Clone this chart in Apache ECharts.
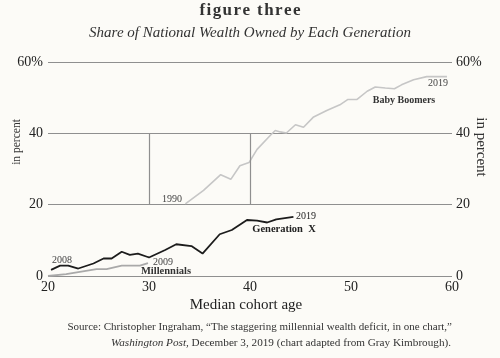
<!DOCTYPE html>
<html><head><meta charset="utf-8">
<script src="https://cdn.jsdelivr.net/npm/echarts@6/dist/echarts.min.js"></script>
<style>html,body{margin:0;padding:0;background:#fcfbf7}#c{width:500px;height:358px}</style>
</head><body><div id="c"></div>
<script>
const xTicks = [20, 30, 40, 50, 60];
const yTicks = [0, 20, 40, 60];
// [median cohort age, share %]
const babyBoomers = [[33.6,20.2],[35.4,24.0],[37.1,28.4],[38.1,27.1],[39.0,30.9],[39.9,31.8],[40.7,35.5],[42.0,39.4],[42.5,40.8],[43.0,40.4],[43.6,40.1],[44.5,42.4],[45.3,41.7],[46.3,44.6],[47.6,46.4],[48.9,48.0],[49.7,49.5],[50.6,49.5],[51.6,51.8],[52.4,53.0],[53.4,52.7],[54.3,52.5],[55.0,53.6],[56.2,55.0],[57.5,55.9],[59.5,55.9]];
const generationX = [[20.3,1.7],[21.2,2.9],[22.0,2.9],[23.0,2.1],[24.5,3.5],[25.5,4.9],[26.3,4.9],[27.3,6.8],[28.1,5.9],[28.9,6.3],[29.8,5.4],[30.0,5.2],[31.6,7.3],[32.7,8.9],[34.2,8.4],[35.3,6.3],[37.0,11.7],[38.2,12.9],[39.7,15.7],[40.7,15.5],[41.7,15.0],[42.6,15.9],[44.3,16.6]];
const millennials = [[20.0,0.0],[21.8,0.5],[24.8,1.9],[25.8,1.9],[27.3,2.9],[29.1,2.9],[29.9,3.6]];
const boxLines = [[[30,20],[30,40]],[[40,20],[40,40]]];

const serif = '"Liberation Serif","DejaVu Serif",serif';
const chart = echarts.init(document.getElementById('c'));
const txt = (x, y, text, o) => Object.assign({type:'text', x, y, style:Object.assign({text, font:'10px '+serif, fill:'#333', textVerticalAlign:'middle'}, o||{})});
const spaced = s => s.split('').join('\u200A');
chart.setOption({
  backgroundColor:'#fcfbf7',
  animation:false,
  grid:{left:48, right:48, top:62, bottom:82},
  xAxis:{type:'value', min:20, max:60, interval:10,
    axisLine:{show:false}, axisTick:{show:false}, splitLine:{show:false},
    axisLabel:{margin:4, color:'#222', fontFamily:serif, fontSize:14,
      formatter:v=>xTicks.includes(v)?String(v):''}},
  yAxis:[
    {type:'value', min:0, max:60, interval:20, position:'left',
      axisLine:{show:false}, axisTick:{show:false},
      splitLine:{show:true, lineStyle:{color:'#8f8f8f', width:1.2}},
      axisLabel:{margin:5, color:'#222', fontFamily:serif, fontSize:14,
        formatter:v=>yTicks.includes(v)?(v===60?'60%':String(v)):''}},
    {type:'value', min:0, max:60, interval:20, position:'right',
      axisLine:{show:false}, axisTick:{show:false}, splitLine:{show:false},
      axisLabel:{margin:4, color:'#222', fontFamily:serif, fontSize:14,
        formatter:v=>yTicks.includes(v)?(v===60?'60%':String(v)):''}}
  ],
  series:[
    {type:'line', data:[], symbol:'none', silent:true,
      markLine:{silent:true, symbol:'none', label:{show:false},
        lineStyle:{color:'#8f8f8f', width:1.2, type:'solid'},
        data:boxLines.map(l=>[{coord:l[0]},{coord:l[1]}])}},
    {name:'Baby Boomers', type:'line', data:babyBoomers, symbol:'none',
      lineStyle:{color:'#c6c6c6', width:1.6}},
    {name:'Millennials', type:'line', data:millennials, symbol:'none',
      lineStyle:{color:'#a9a9a9', width:1.8}},
    {name:'Generation X', type:'line', data:generationX, symbol:'none',
      lineStyle:{color:'#1c1c1c', width:1.8}}
  ],
  graphic:[
    txt(250, 11, spaced('figure three'), {font:'bold 17px '+serif, textAlign:'center', fill:'#333'}),
    txt(250, 33, 'Share of National Wealth Owned by Each Generation', {font:'italic 15px '+serif, textAlign:'center', fill:'#333'}),
    {type:'text', x:17, y:142, rotation:Math.PI/2, style:{text:'in percent', font:'11.5px '+serif, fill:'#333', textAlign:'center', textVerticalAlign:'middle'}},
    {type:'text', x:481, y:147, rotation:-Math.PI/2, style:{text:'in percent', font:'15px '+serif, fill:'#333', textAlign:'center', textVerticalAlign:'middle'}},
    txt(246, 305, 'Median cohort age', {font:'15px '+serif, textAlign:'center', fill:'#222'}),
    {type:'text', x:452, y:327, style:{text:'Source: Christopher Ingraham, \u201cThe staggering millennial wealth deficit, in one chart,\u201d', font:'11px '+serif, fill:'#333', textAlign:'right', textVerticalAlign:'middle'}},
    {type:'text', x:451, y:343, style:{text:'{i|Washington Post,} December 3, 2019 (chart adapted from Gray Kimbrough).', font:'11.2px '+serif, fill:'#333', textAlign:'right', textVerticalAlign:'middle', rich:{i:{font:'italic 11.2px '+serif, fill:'#333'}}}},
    txt(182, 199, '1990', {textAlign:'right', fill:'#444'}),
    txt(448, 83, '2019', {textAlign:'right', fill:'#444'}),
    txt(404, 100, 'Baby Boomers', {font:'bold 10px '+serif, textAlign:'center', fill:'#333'}),
    txt(296, 216, '2019', {textAlign:'left', fill:'#222'}),
    txt(284, 229, 'Generation  X', {font:'bold 10.5px '+serif, textAlign:'center', fill:'#222'}),
    txt(52, 260, '2008', {textAlign:'left', fill:'#444'}),
    txt(153, 262, '2009', {textAlign:'left', fill:'#444'}),
    txt(166, 271, 'Millennials', {font:'bold 10.5px '+serif, textAlign:'center', fill:'#333'})
  ]
});
</script></body></html>
